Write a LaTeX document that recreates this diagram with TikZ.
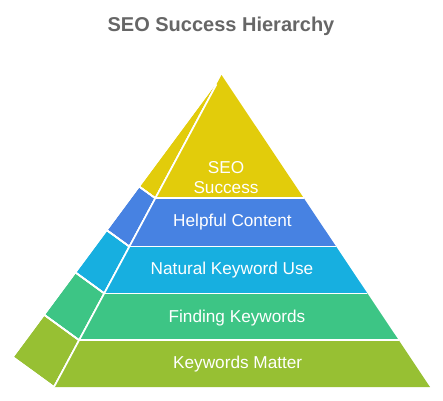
\documentclass[tikz,border=0pt]{standalone}
\usepackage{fontspec}
\setmainfont{Liberation Sans}
\usetikzlibrary{calc}
\definecolor{cYel}{HTML}{E2CC0B}
\definecolor{cBlu}{HTML}{4782E2}
\definecolor{cCya}{HTML}{17AFE0}
\definecolor{cGrn}{HTML}{3DC585}
\definecolor{cLim}{HTML}{97C033}
\definecolor{cTitle}{HTML}{666666}
\tikzset{
  face/.style={draw=white, line width=1.6pt, line join=round},
  lbl/.style={text=white, font=\fontsize{17.2}{20.6}\selectfont, inner sep=0pt, align=center},
  ttl/.style={text=cTitle, font=\fontsize{20}{22}\selectfont\bfseries, inner sep=0pt}
}
\begin{document}
\begin{tikzpicture}[x=1pt,y=-1pt]
\useasboundingbox (0,0) rectangle (443,400);
\coordinate (A) at (221.5,75);
\coordinate (FL) at (54,387);
\coordinate (FR) at (430,387);
\coordinate (O) at (12.7,357);
\foreach \i/\t in {1/0.395,2/0.55,3/0.70,4/0.85,5/1.0}{
  \coordinate (L\i) at ($(A)!\t!(FL)$);
  \coordinate (R\i) at ($(A)!\t!(FR)$);
  \coordinate (S\i) at ($(A)!\t!(O)$);
}
% side faces
\fill[face, fill=cYel] (A) -- (S1) -- (L1) -- cycle;
\fill[face, fill=cBlu] (S1) -- (S2) -- (L2) -- (L1) -- cycle;
\fill[face, fill=cCya] (S2) -- (S3) -- (L3) -- (L2) -- cycle;
\fill[face, fill=cGrn] (S3) -- (S4) -- (L4) -- (L3) -- cycle;
\fill[face, fill=cLim] (S4) -- (S5) -- (L5) -- (L4) -- cycle;
\draw[face] (A) -- (S1) -- (L1) -- cycle;
\draw[face] (S1) -- (S2) -- (L2) -- (L1) -- cycle;
\draw[face] (S2) -- (S3) -- (L3) -- (L2) -- cycle;
\draw[face] (S3) -- (S4) -- (L4) -- (L3) -- cycle;
\draw[face] (S4) -- (S5) -- (L5) -- (L4) -- cycle;
% front faces
\fill[fill=cYel] (A) -- (L1) -- (R1) -- cycle;
\fill[fill=cBlu] (L1) -- (R1) -- (R2) -- (L2) -- cycle;
\fill[fill=cCya] (L2) -- (R2) -- (R3) -- (L3) -- cycle;
\fill[fill=cGrn] (L3) -- (R3) -- (R4) -- (L4) -- cycle;
\fill[fill=cLim] (L4) -- (R4) -- (R5) -- (L5) -- cycle;
\draw[face] (L1) -- (R1);
\draw[face] (L2) -- (R2);
\draw[face] (L3) -- (R3);
\draw[face] (L4) -- (R4);
\draw[face] ($(A)!0.03!(L5)$) -- (L5);
% labels
\node[ttl] (title) at (221,26) {SEO Success Hierarchy};
\node[lbl] (seo) at (226,177.5) {SEO\\Success};
\node[lbl] (help) at (232.5,222.5) {Helpful Content};
\node[lbl] (nat) at (232,270) {Natural Keyword Use};
\node[lbl] (find) at (237,318) {Finding Keywords};
\node[lbl] (kw) at (237.7,364) {Keywords Matter};
\end{tikzpicture}
\end{document}
